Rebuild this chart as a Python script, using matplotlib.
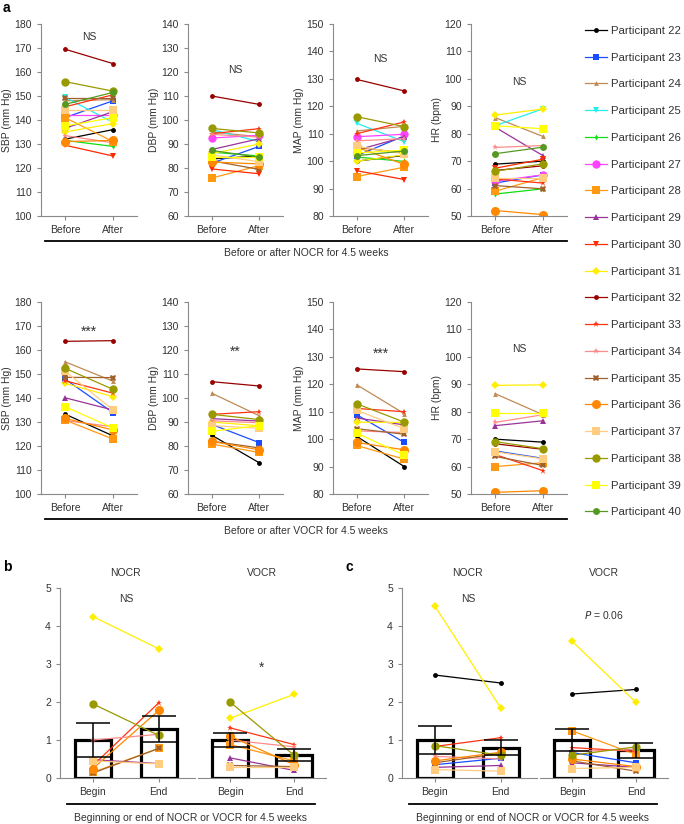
import matplotlib
matplotlib.use("Agg")
import matplotlib.pyplot as plt
import numpy as np

plt.rcParams['font.family'] = ['Liberation Sans', 'DejaVu Sans']
plt.rcParams['font.size'] = 7

nan = np.nan

# participants and their plotting style
participants = list(range(22, 41))
colors = ['#000000', '#1a4dff', '#c08a55', '#22eeee', '#11dd11', '#ff44ff', '#ff9911',
          '#993399', '#ff2a00', '#ffee00', '#990000', '#ff3311', '#ff8c8c', '#a0622d',
          '#ff8800', '#ffcc80', '#999900', '#ffff00', '#559922']
markers = ['o', 's', '^', 'v', 'd', 'o', 's', '^', 'v', 'D', 'o', '*', '*', 'X',
           'o', 's', 'o', 's', 'o']
msizes = [3.5, 4.5, 3.5, 4, 3, 6, 6, 5, 5, 4.5, 3.5, 5, 4.5, 5, 6.5, 5.5, 6, 6, 5]

# panel a, NOCR (before / after), order = participants 22..40
sbp_nocr_before = [132, 141, 148, 149.5, 131.5, 142, 141, 136.5, 129.5, 135, 169.5, 145.5, 133.5, 149, 131, 144, 156, 137.5, 146.5]
sbp_nocr_after = [136, 148, 148.5, 139, 129, 142, 131, 143.5, 125, 138.5, 163.5, 150.5, 130.5, 149, 131.5, 144, 152, 141, 151.5]
dbp_nocr_before = [83.8, 82, 95, 96, 86.6, 92.5, 75.8, 87.7, 79.6, 86, 110, 94.3, 94, 83, 82.5, 85.5, 96.5, 84.5, 87.3]
dbp_nocr_after = [85, 89, 93, 91, 85, 93.6, 81, 92.2, 77.6, 90, 106.5, 96.4, 92.9, 79.4, 81.7, 82.6, 94.6, 84.5, 84.5]
map_nocr_before = [100, 102, 111, 113.8, 101.5, 108.9, 94.4, 104, 96.5, 100, 129.8, 110, 107.4, 105, 105.1, 105.4, 116.2, 103, 102]
map_nocr_after = [102.1, 109.2, 112.7, 107.1, 99.9, 109.8, 97.8, 108.8, 93.3, 102.3, 125.6, 114.3, 108.2, 103, 98.8, 102.7, 112.6, 104, 103.7]
hr_nocr_before = [68.9, 62, 85.9, 82.9, 58, 62.7, 59, 82.4, 67.4, 86.8, 66.6, 63.5, 75, 61.1, 52, 64, 66.3, 82.9, 72.7]
hr_nocr_after = [70, 65, 79, 89.1, 59.9, 65, 64, 72, 70.7, 89, 68.3, 62, 75.7, 59.9, 50.5, 64, 69, 81.8, 75.1]

# panel a, VOCR (before / after)
sbp_vocr_before = [133.3, 147.9, 155.1, nan, nan, nan, 130.8, 140.1, nan, 146.1, 163.6, 147.2, 130.6, 148.6, 131.5, 151.2, 152.4, 136.4, nan]
sbp_vocr_after = [124.2, 133.9, 147, nan, nan, nan, 122.9, 135, nan, 140.6, 163.9, 142, 128, 148.5, 126.7, 135, 143.6, 127.5, nan]
dbp_vocr_before = [84.5, 89, 102, nan, nan, nan, 80.8, 91.4, nan, 90, 106.8, 93.2, 90.5, 82, 81.9, 88.5, 93.2, 86.1, nan]
dbp_vocr_after = [73, 81.4, 92.6, nan, nan, nan, 77.3, 90.4, nan, 88.4, 105, 94.3, 89.7, 79.2, 78.4, 87.4, 91, 88.5, nan]
map_vocr_before = [101, 108.9, 119.8, nan, nan, nan, 97.7, 107.7, nan, 106.2, 125.6, 111.2, 103, 103.8, 98.8, 110.5, 112.9, 102.2, nan]
map_vocr_after = [90, 98.8, 109.3, nan, nan, nan, 92.7, 105.2, nan, 106.1, 124.6, 110, 102.4, 101.8, 96.1, 103.8, 106.2, 94.2, nan]
hr_vocr_before = [70, 65.7, 86.6, nan, nan, nan, 60, 74.9, nan, 89.6, 68.3, 64.4, 76.1, 63.7, 50.6, 65.4, 69.1, 79.5, nan]
hr_vocr_after = [68.9, 63, 78.9, nan, nan, nan, 61.4, 76.7, nan, 89.8, 66.3, 58.5, 78.9, 60.4, 51.2, 62.8, 66.5, 79.5, nan]

# panel b (begin / end)
b_nocr_begin = [nan, nan, nan, nan, nan, nan, 0.15, 0.48, nan, 4.25, nan, 0.33, 1.0, 0.13, 0.25, 0.45, 1.95, nan, nan]
b_nocr_end = [nan, nan, nan, nan, nan, nan, 0.78, 0.38, nan, 3.4, nan, 1.98, 1.15, 0.78, 1.78, 0.37, 1.12, nan, nan]
b_vocr_begin = [nan, nan, nan, nan, nan, nan, 0.88, 0.53, nan, 1.57, nan, 1.32, 1.0, 0.33, 1.1, 0.3, 2.0, nan, nan]
b_vocr_end = [nan, nan, nan, nan, nan, nan, 0.45, 0.2, nan, 2.2, nan, 0.88, 0.82, 0.3, 0.35, 0.3, 0.6, nan, nan]
b_nocr_mean, b_nocr_sem = [1.0, 1.28], [0.45, 0.34]
b_vocr_mean, b_vocr_sem = [1.0, 0.6], [0.18, 0.16]

# panel c (begin / end)
c_nocr_begin = [2.71, 0.35, nan, nan, nan, nan, nan, 0.28, nan, 4.52, nan, 0.83, 0.57, 0.4, 0.45, 0.22, 0.85, nan, nan]
c_nocr_end = [2.5, 0.52, nan, nan, nan, nan, nan, 0.33, nan, 1.84, nan, 1.06, 0.5, 0.65, 0.68, 0.18, 0.6, nan, nan]
c_vocr_begin = [2.21, 0.67, nan, nan, nan, nan, 1.24, 0.4, nan, 3.6, nan, 0.8, 0.7, 0.45, 0.5, 0.25, 0.6, nan, nan]
c_vocr_end = [2.33, 0.4, nan, nan, nan, nan, 0.62, 0.28, nan, 1.99, nan, 0.7, 0.75, 0.18, 0.3, 0.28, 0.82, nan, nan]
c_nocr_mean, c_nocr_sem = [1.0, 0.8], [0.37, 0.2]
c_vocr_mean, c_vocr_sem = [1.0, 0.73], [0.28, 0.2]

W, H = 684, 824
fig = plt.figure(figsize=(W / 100, H / 100), dpi=100)
spine_col = '#8a8a8a'
text_col = '#333333'


def px_axes(x0, y0, x1, y1):
    return fig.add_axes([x0 / W, 1 - y1 / H, (x1 - x0) / W, (y1 - y0) / H])


def style(ax, left=True):
    for s in ['top', 'right']:
        ax.spines[s].set_visible(False)
    ax.spines['bottom'].set_color(spine_col)
    ax.spines['left'].set_color(spine_col)
    ax.spines['left'].set_visible(left)
    ax.tick_params(colors=spine_col, labelcolor=text_col, length=3, width=0.8, labelsize=7.5)
    if not left:
        ax.tick_params(axis='y', left=False, labelleft=False)


def sig_text(ax, x, y, s):
    # asterisks are drawn larger than letters
    size = 10 if s.strip('*') == '' else 7.5
    ax.text(x, y, s, ha='center', va='center', fontsize=size, color=text_col)


def pair_lines(ax, before, after, x=(0, 1)):
    handles = []
    for i, p in enumerate(participants):
        h, = ax.plot(x, [before[i], after[i]], color=colors[i], marker=markers[i],
                     ms=msizes[i], lw=0.9, mew=0, zorder=2, label=f'Participant {p}')
        handles.append(h)
    return handles


# panel a
row_specs = [
    (24, 216, [(sbp_nocr_before, sbp_nocr_after), (dbp_nocr_before, dbp_nocr_after),
               (map_nocr_before, map_nocr_after), (hr_nocr_before, hr_nocr_after)],
     ['NS', 'NS', 'NS', 'NS'], 'Before or after NOCR for 4.5 weeks'),
    (302, 494, [(sbp_vocr_before, sbp_vocr_after), (dbp_vocr_before, dbp_vocr_after),
                (map_vocr_before, map_vocr_after), (hr_vocr_before, hr_vocr_after)],
     ['***', '**', '***', 'NS'], 'Before or after VOCR for 4.5 weeks'),
]
col_x = [(41, 137), (188, 283), (333, 428), (471, 567)]
ylims = [(100, 180), (60, 140), (80, 150), (50, 120)]
ysteps = [10, 10, 10, 10]
ylabels = ['SBP (mm Hg)', 'DBP (mm Hg)', 'MAP (mm Hg)', 'HR (bpm)']
sig_y = [[174.4, 120.8, 137.2, 98.9], [167.5, 119.2, 131.3, 102.7]]

legend_handles = None
for r, (y0, y1, pairs, sigs, caption) in enumerate(row_specs):
    for c, (x0, x1) in enumerate(col_x):
        ax = px_axes(x0, y0, x1, y1)
        hs = pair_lines(ax, pairs[c][0], pairs[c][1])
        if legend_handles is None:
            legend_handles = hs
        ax.set_xlim(-0.5, 1.5)
        ax.set_ylim(*ylims[c])
        ax.set_yticks(np.arange(ylims[c][0], ylims[c][1] + 1, ysteps[c]))
        ax.set_xticks([0, 1])
        ax.set_xticklabels(['Before', 'After'])
        ax.set_ylabel(ylabels[c], color=text_col, fontsize=7.5, labelpad=2)
        style(ax)
        sig_text(ax, 0.5, sig_y[r][c], sigs[c])
    line_y = 1 - (y1 + 25) / H
    fig.add_artist(plt.Line2D([45 / W, 567 / W], [line_y, line_y], color='black', lw=1.3))
    fig.text(306 / W, 1 - (y1 + 37) / H, caption, ha='center', va='center', fontsize=7.5, color=text_col)

fig.legend(legend_handles, [h.get_label() for h in legend_handles], loc='upper left',
           bbox_to_anchor=(585 / W, 1 - 26 / H), frameon=False, fontsize=8.2,
           handlelength=1.9, handletextpad=0.4, labelspacing=1.47, borderaxespad=0,
           borderpad=0, labelcolor=text_col)


# panels b and c
def bar_group(ax, begin, end, means, sems):
    ax.bar([0, 1], means, width=0.55, facecolor='white', edgecolor='black', lw=2.3, zorder=1)
    pair_lines(ax, begin, end)
    ax.errorbar([0, 1], means, yerr=sems, fmt='none', ecolor='black', elinewidth=1.1,
                capsize=12, capthick=1.1, zorder=3)
    ax.set_xlim(-0.5, 1.55)
    ax.set_ylim(0, 5)
    ax.set_xticks([0, 1])
    ax.set_xticklabels(['Begin', 'End'])


panels = [
    ('b', 0, (b_nocr_begin, b_nocr_end, b_nocr_mean, b_nocr_sem),
     (b_vocr_begin, b_vocr_end, b_vocr_mean, b_vocr_sem), 'NS', '*', 2.9),
    ('c', 342, (c_nocr_begin, c_nocr_end, c_nocr_mean, c_nocr_sem),
     (c_vocr_begin, c_vocr_end, c_vocr_mean, c_vocr_sem), 'NS', '$\\it{P}$ = 0.06', 4.3),
]
for label, dx, left_data, right_data, sig_l, sig_r, sig_r_y in panels:
    axl = px_axes(60 + dx, 588, 195 + dx, 778)
    bar_group(axl, *left_data)
    style(axl)
    axl.set_yticks(range(0, 6))
    sig_text(axl, 0.5, 4.7, sig_l)
    axr = px_axes(198 + dx, 588, 326 + dx, 778)
    bar_group(axr, *right_data)
    axr.set_xlim(-0.5, 1.5)
    style(axr, left=False)
    sig_text(axr, 0.5, sig_r_y, sig_r)
    fig.text((125 + dx) / W, 1 - 573 / H, 'NOCR', ha='center', va='center', fontsize=7.5, color=text_col)
    fig.text((262 + dx) / W, 1 - 573 / H, 'VOCR', ha='center', va='center', fontsize=7.5, color=text_col)
    ly = 1 - 804 / H
    fig.add_artist(plt.Line2D([(67 + dx) / W, (315 + dx) / W], [ly, ly], color='black', lw=1.3))
    fig.text((191 + dx) / W, 1 - 818 / H, 'Beginning or end of NOCR or VOCR for 4.5 weeks',
             ha='center', va='center', fontsize=7.5, color=text_col)
    fig.text((3 + dx) / W, 1 - 567 / H, label, ha='left', va='center', fontsize=10, fontweight='bold')

fig.text(3 / W, 1 - 8 / H, 'a', ha='left', va='center', fontsize=10, fontweight='bold')

fig.savefig('out.png', dpi=100)
